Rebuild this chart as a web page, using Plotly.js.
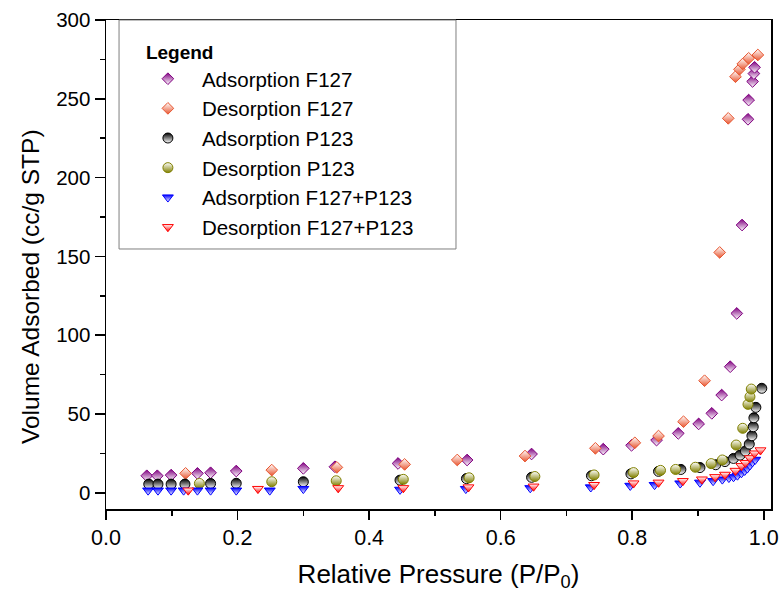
<!DOCTYPE html>
<html><head><meta charset="utf-8">
<script src="https://cdn.plot.ly/plotly-3.0.1.min.js"></script>
<style>html,body{margin:0;padding:0;background:#fff;}#chart{width:782px;height:592px;}</style>
</head><body><div id="chart"></div>
<script>
// Adsorption F127
const adsF127_x = [0.062,0.078,0.099,0.139,0.159,0.198,0.300,0.348,0.444,0.549,0.647,0.756,0.799,0.837,0.870,0.901,0.921,0.936,0.949,0.959,0.967,0.976,0.977,0.983,0.985,0.986];
const adsF127_y = [10.8,10.8,11.2,12.3,12.7,13.8,15.5,16.5,18.6,20.8,24.6,27.7,30.1,33.4,37.7,43.7,50.4,62.0,80.0,113.8,169.9,237,249.2,261,266,270];
// Desorption F127
const desF127_x = [0.121,0.252,0.351,0.454,0.534,0.637,0.744,0.804,0.840,0.878,0.910,0.933,0.946,0.957,0.963,0.968,0.977,0.991];
const desF127_y = [12.3,14.4,16.1,18.0,20.8,23.3,28.2,31.7,36.0,45.1,71.1,152.5,237.6,264.0,268.7,272.1,275.7,277.8];
// Adsorption P123
const adsP123_x = [0.065,0.079,0.099,0.120,0.159,0.198,0.300,0.447,0.548,0.647,0.738,0.798,0.840,0.874,0.903,0.927,0.941,0.954,0.964,0.972,0.978,0.982,0.984,0.985,0.988,0.997];
const adsP123_y = [5.5,5.5,5.5,5.5,5.9,6.0,7.0,8.0,9.0,9.8,10.8,12.0,13.6,14.8,16.0,17.8,19.8,21.8,23.9,26.5,30.9,36.2,41.9,47.6,54.2,66.3];
// Desorption P123
const desP123_x = [0.142,0.252,0.350,0.452,0.552,0.652,0.742,0.802,0.843,0.866,0.896,0.920,0.937,0.958,0.968,0.976,0.979,0.981];
const desP123_y = [5.9,7.0,7.6,8.5,9.5,10.3,11.3,12.8,14.2,14.8,16.2,18.5,20.8,30.3,40.9,56.1,60.9,65.8];
// Adsorption F127+P123
const adsMix_x = [0.064,0.079,0.099,0.118,0.139,0.159,0.198,0.249,0.300,0.447,0.547,0.645,0.737,0.797,0.834,0.873,0.903,0.923,0.937,0.947,0.954,0.960,0.966,0.971,0.975,0.979,0.983,0.987];
const adsMix_y = [1.5,1.5,1.5,1.5,1.5,1.5,1.5,1.5,2.5,2.0,2.5,3.0,3.5,4.5,5.0,6.0,6.5,7.5,8.5,9.5,10.0,11.0,12.5,14.0,15.5,17.5,19.5,21.0];
// Desorption F127+P123
const desMix_x = [0.125,0.231,0.353,0.452,0.551,0.650,0.742,0.802,0.840,0.877,0.906,0.926,0.941,0.957,0.966,0.972,0.979,0.986,0.995];
const desMix_y = [1.5,2.5,3.0,3.0,3.5,4.0,5.0,6.0,6.5,7.5,8.5,10.0,11.5,14.0,17.0,19.0,22.0,25.0,27.0];

const seriesNames = ['Adsorption F127','Desorption F127','Adsorption P123','Desorption P123','Adsorption F127+P123','Desorption F127+P123'];
const xTitle = 'Relative Pressure (P/P<sub>0</sub>)';
const yTitle = 'Volume Adsorbed (cc/g STP)';

function tr(name, x, y, symbol, size, col, topCol, botCol) {
  return {
    type: 'scatter', mode: 'markers', name: name, x: x, y: y,
    marker: {
      symbol: symbol, size: size, color: botCol,
      gradient: {type: 'vertical', color: topCol},
      line: {color: col, width: 1}
    },
    hoverinfo: 'x+y+name'
  };
}
const PURPLE = '#800080', ORANGE = '#E8552F', OLIVE = '#808000', BLUE = '#0000FF', RED = '#FF0000';
const data = [
  tr(seriesNames[0], adsF127_x, adsF127_y, 'diamond', 9, PURPLE, '#ffffff', PURPLE),
  tr(seriesNames[1], desF127_x, desF127_y, 'diamond', 9, ORANGE, ORANGE, '#ffffff'),
  tr(seriesNames[2], adsP123_x, adsP123_y, 'circle', 10, '#000000', '#ffffff', '#000000'),
  tr(seriesNames[3], desP123_x, desP123_y, 'circle', 10, OLIVE, OLIVE, '#ffffff'),
  tr(seriesNames[4], adsMix_x, adsMix_y, 'triangle-down', 9.5, BLUE, '#ffffff', BLUE),
  tr(seriesNames[5], desMix_x, desMix_y, 'triangle-down', 9.5, RED, RED, '#ffffff')
];

const FONT = '"Liberation Sans", Arial, sans-serif';
const layout = {
  width: 782, height: 592,
  margin: {l: 106, r: 11, t: 20, b: 83},
  paper_bgcolor: '#fff', plot_bgcolor: '#fff',
  font: {family: FONT, color: '#000'},
  showlegend: true,
  legend: {
    x: 0.057, y: 0.971, xanchor: 'left', yanchor: 'top',
    bgcolor: 'rgba(0,0,0,0)', borderwidth: 0,
    font: {family: FONT, size: 20.5, color: '#000'},
    title: {text: '<b>Legend</b>', font: {family: FONT, size: 19, color: '#000'}},
    itemwidth: 58, indentation: -10, traceorder: 'normal'
  },
  shapes: [{
    type: 'rect', xref: 'paper', yref: 'paper',
    x0: 0.0196, x1: 0.5263, y0: 0.5317, y1: 1.0,
    line: {color: '#7f7f7f', width: 1}, fillcolor: 'rgba(255,255,255,0)', layer: 'above'
  }],
  annotations: [{
    text: yTitle, xref: 'paper', yref: 'paper', x: -0.1143, y: 0.456,
    xanchor: 'center', yanchor: 'middle', textangle: -90, showarrow: false,
    font: {family: FONT, size: 24.5, color: '#000'}
  }],
  xaxis: {
    range: [0, 1.011], showgrid: false, zeroline: false,
    showline: true, linecolor: '#000', linewidth: 1.5, mirror: true,
    ticks: 'outside', ticklen: 9, tickwidth: 1.5, tickcolor: '#000',
    dtick: 0.2, tick0: 0, tickformat: '.1f',
    minor: {dtick: 0.1, ticks: 'outside', ticklen: 5, tickwidth: 1.5, tickcolor: '#000'},
    tickfont: {family: FONT, size: 21.5, color: '#000'},
    title: {text: xTitle, font: {family: FONT, size: 26, color: '#000'}, standoff: 15}
  },
  yaxis: {
    range: [-10.3, 300], showgrid: false, zeroline: false,
    showline: true, linecolor: '#000', linewidth: 1.5, mirror: true,
    ticks: 'outside', ticklen: 10, tickwidth: 1.5, tickcolor: '#000',
    dtick: 50, tick0: 0,
    minor: {dtick: 25, ticks: 'outside', ticklen: 5, tickwidth: 1.5, tickcolor: '#000'},
    tickfont: {family: FONT, size: 20.5, color: '#000'}
  }
};
Plotly.newPlot('chart', data, layout, {displayModeBar: false, staticPlot: true});
</script></body></html>
